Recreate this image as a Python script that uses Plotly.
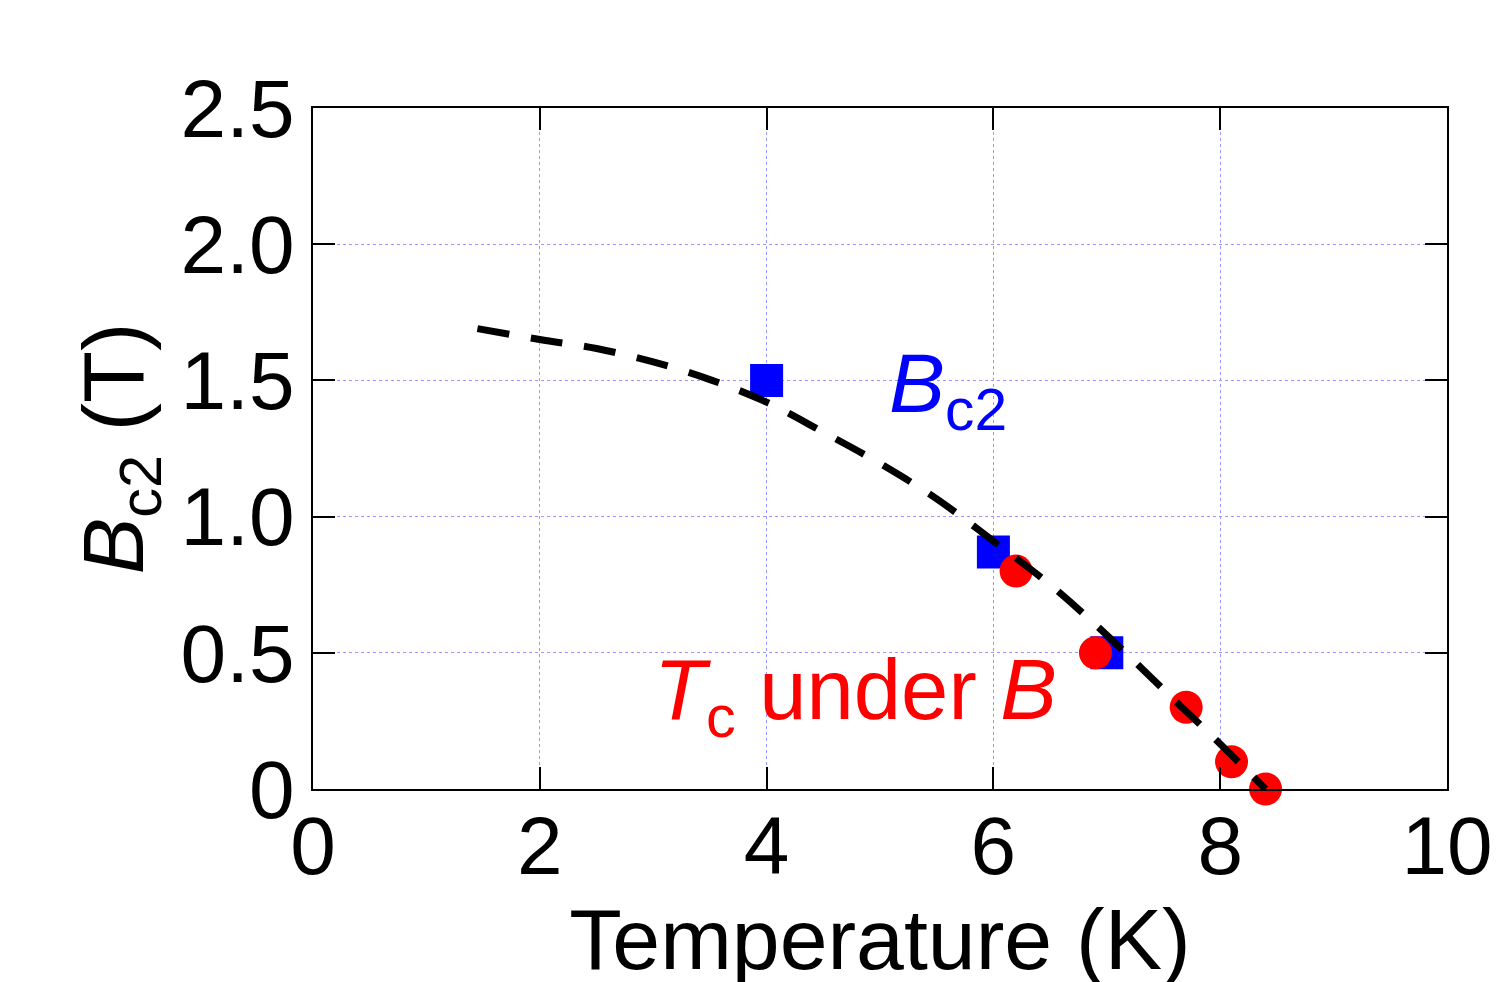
import plotly.graph_objects as go

# Data
bc2_T = [4.0, 6.0, 7.0]
bc2_B = [1.50, 0.87, 0.50]

tc_T = [6.2, 6.9, 7.7, 8.1, 8.4]
tc_B = [0.80, 0.50, 0.30, 0.10, 0.0]

fit_T = [1.45, 2.0, 2.5, 3.0, 3.5, 4.0, 4.5, 5.0, 5.5, 6.0, 6.5, 7.0, 7.5, 8.0, 8.4]
fit_B = [1.69, 1.65, 1.617, 1.568, 1.503, 1.42, 1.31, 1.195, 1.065, 0.91, 0.75, 0.565, 0.365, 0.165, 0.0]

x_ticks = [0, 2, 4, 6, 8, 10]
x_ticktext = ["0", "2", "4", "6", "8", "10"]
y_ticks = [0, 0.5, 1.0, 1.5, 2.0, 2.5]
y_ticktext = ["0", "0.5", "1.0", "1.5", "2.0", "2.5"]

FONT = "Liberation Sans, Arial, sans-serif"

fig = go.Figure()
fig.add_trace(go.Scatter(x=bc2_T, y=bc2_B, mode="markers",
                         marker=dict(symbol="square", size=33, color="#0000ff", line=dict(width=0)),
                         showlegend=False))
fig.add_trace(go.Scatter(x=tc_T, y=tc_B, mode="markers",
                         marker=dict(symbol="circle", size=33, color="#ff0000", line=dict(width=0)),
                         showlegend=False, cliponaxis=False))
fig.add_trace(go.Scatter(x=fit_T, y=fit_B, mode="lines",
                         line=dict(color="black", width=7, dash="32px,22px", shape="spline"),
                         showlegend=False))

fig.add_annotation(x=5.6, y=1.47, xref="x", yref="y",
                   text="<i>B</i><sub>c2</sub>", showarrow=False,
                   font=dict(family=FONT, size=84, color="#0000ff"))
fig.add_annotation(x=4.78, y=0.34, xref="x", yref="y",
                   text="<i>T</i><sub>c</sub> under <i>B</i>", showarrow=False,
                   font=dict(family=FONT, size=85, color="#ff0000"))

axis_common = dict(
    showline=True, linecolor="black", linewidth=2, mirror="ticks",
    ticks="inside", ticklen=22, tickwidth=2, tickcolor="black",
    showgrid=True, gridcolor="#9999ff", gridwidth=1, griddash="dot",
    zeroline=False,
    tickfont=dict(family=FONT, size=82, color="black"),
)

fig.update_xaxes(range=[0, 10], tickvals=x_ticks, ticktext=x_ticktext,
                 ticklabelstandoff=-15,
                 title=dict(text="Temperature (K)", font=dict(family=FONT, size=86, color="black"), standoff=2),
                 **axis_common)
fig.update_yaxes(range=[0, 2.5], tickvals=y_ticks, ticktext=y_ticktext,
                 title=dict(text="<i>B</i><sub>c2</sub> (T)", font=dict(family=FONT, size=85, color="black"), standoff=9),
                 **axis_common)

fig.update_layout(
    width=1500, height=982,
    margin=dict(l=305, r=61, t=100, b=201),
    plot_bgcolor="white", paper_bgcolor="white",
    font=dict(family=FONT, color="black"),
)

fig.write_html("out.html")
